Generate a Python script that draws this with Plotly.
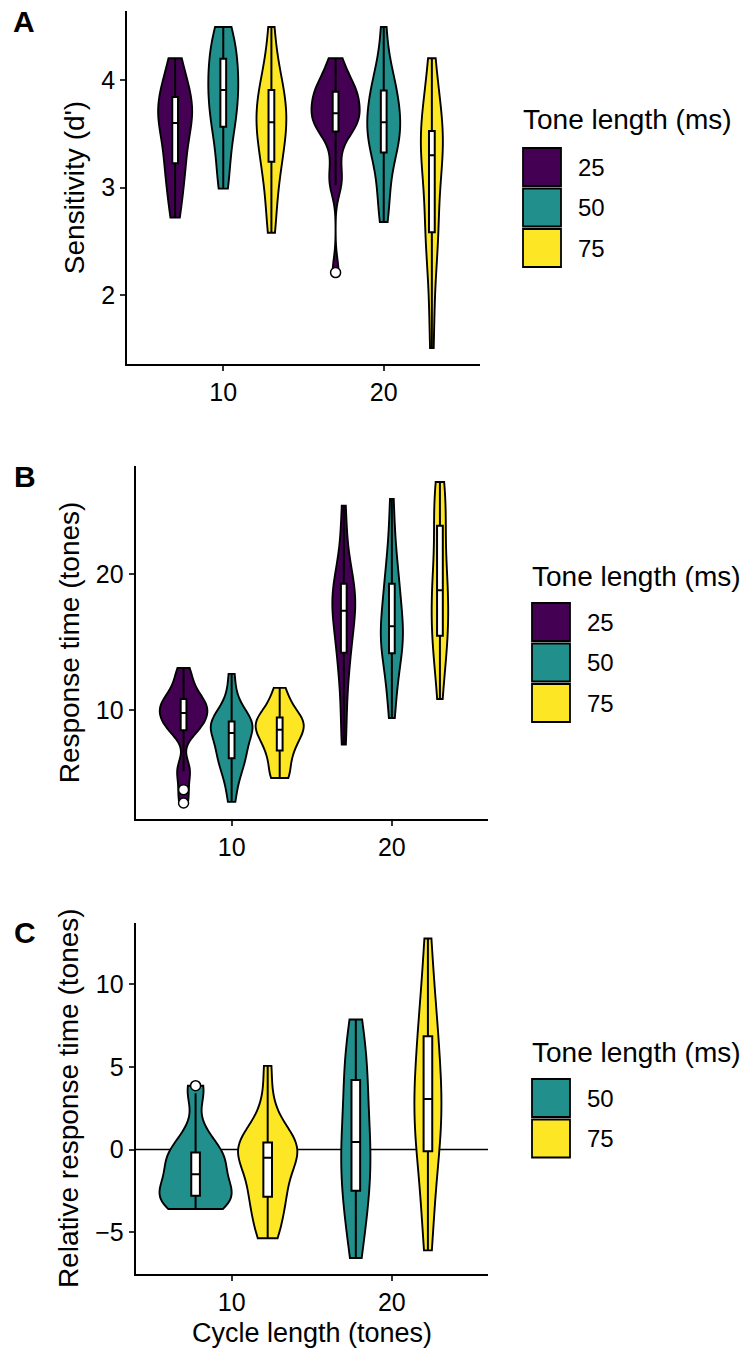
import numpy as np
import plotly.graph_objects as go

# ---------------- data ----------------
CYCLES = ["10", "20"]
TONES = ["25", "50", "75"]
TONE_COLORS = {"25": "#440154", "50": "#21908C", "75": "#FDE725"}

# Panel A: sensitivity (d') per participant
sens_t25_c10 = [2.72, 2.85, 3.0, 3.1, 3.2, 3.25, 3.35, 3.45, 3.55, 3.6,
                3.6, 3.7, 3.72, 3.75, 3.8, 3.88, 3.9, 4.0, 4.1, 4.2]
sens_t50_c10 = [2.99, 3.1, 3.25, 3.4, 3.55, 3.58, 3.65, 3.7, 3.8, 3.88,
                3.93, 3.95, 4.0, 4.1, 4.18, 4.21, 4.3, 4.35, 4.45, 4.49]
sens_t75_c10 = [2.58, 2.75, 2.95, 3.1, 3.2, 3.28, 3.35, 3.45, 3.5, 3.58,
                3.63, 3.65, 3.7, 3.75, 3.89, 3.92, 3.95, 4.05, 4.25, 4.49]
sens_t25_c20 = [2.21, 3.02, 3.1, 3.3, 3.5, 3.54, 3.57, 3.6, 3.65, 3.68,
                3.7, 3.75, 3.8, 3.85, 3.88, 3.9, 3.95, 4.0, 4.1, 4.2]
sens_t50_c20 = [2.68, 2.85, 3.0, 3.15, 3.3, 3.35, 3.4, 3.45, 3.5, 3.58,
                3.63, 3.65, 3.7, 3.75, 3.89, 3.91, 3.95, 4.05, 4.2, 4.49]
sens_t75_c20 = [1.51, 1.9, 2.3, 2.5, 2.55, 2.62, 2.8, 3.0, 3.15, 3.25,
                3.35, 3.4, 3.45, 3.5, 3.5, 3.55, 3.7, 3.85, 4.0, 4.2]

# Panel B: response time (tones)
rt_t25_c10 = [3.16, 4.14, 5.5, 5.7, 8.3, 8.7, 8.8, 9.0, 9.4, 9.7,
              9.85, 10.0, 10.2, 10.4, 10.7, 10.9, 11.2, 11.8, 12.5, 13.09]
rt_t50_c10 = [3.24, 4.5, 5.3, 5.8, 6.3, 6.6, 6.9, 7.3, 7.7, 8.1,
              8.5, 8.7, 8.9, 9.0, 9.1, 9.2, 9.6, 10.2, 11.0, 12.65]
rt_t75_c10 = [5.0, 5.05, 5.6, 6.3, 6.9, 7.15, 7.5, 7.9, 8.2, 8.5,
              8.6, 8.8, 9.0, 9.1, 9.4, 9.5, 9.8, 10.3, 10.9, 11.62]
rt_t25_c20 = [7.45, 9.5, 11.5, 12.8, 14.0, 14.4, 15.2, 16.0, 16.8, 17.1,
              17.5, 17.8, 18.2, 18.6, 19.15, 19.4, 20.0, 21.0, 22.8, 25.02]
rt_t50_c20 = [9.41, 10.8, 12.0, 13.0, 14.0, 14.35, 14.7, 15.1, 15.6, 16.0,
              16.3, 16.8, 17.5, 18.2, 19.15, 19.4, 20.2, 21.5, 23.0, 25.51]
rt_t75_c20 = [10.81, 12.5, 13.8, 14.8, 15.3, 15.6, 16.3, 17.0, 17.8, 18.5,
              19.1, 19.6, 20.2, 21.0, 23.2, 23.9, 24.5, 25.5, 26.2, 26.76]

# Panel C: relative response time (tones), relative to 25 ms tones
rel_t50_c10 = [-3.6, -3.55, -3.4, -3.2, -2.9, -2.7, -2.6, -2.4, -2.1, -1.8,
               -1.2, -1.0, -0.7, -0.4, -0.25, -0.1, 0.5, 1.2, 3.4, 3.86]
rel_t75_c10 = [-5.36, -5.0, -4.2, -3.5, -2.95, -2.75, -2.2, -1.6, -1.1, -0.7,
               -0.3, -0.1, 0.0, 0.2, 0.35, 0.5, 0.9, 1.5, 2.8, 5.06]
rel_t50_c20 = [-6.56, -5.5, -4.5, -3.5, -2.6, -2.4, -1.8, -1.0, -0.3, 0.3,
               0.6, 1.2, 2.0, 3.0, 4.1, 4.3, 5.0, 6.0, 7.0, 7.86]
rel_t75_c20 = [-6.1, -4.5, -3.0, -1.5, -0.3, 0.1, 0.8, 1.5, 2.3, 2.9,
               3.2, 3.8, 4.5, 5.3, 6.7, 7.0, 7.8, 9.0, 10.8, 12.76]
REFERENCE_LINE_C = 0.0

A_TICKS = [2, 3, 4]
B_TICKS = [10, 20]
C_TICKS = [-5, 0, 5, 10]

# ---------------- layout constants ----------------
W, H = 745, 1348
FONT = "Liberation Sans, Arial, Helvetica, sans-serif"
TICK_SIZE = 25
TITLE_SIZE = 28
XTITLE_SIZE = 27
LEG_TEXT = 24


def px_x(x):
    return x / W


def px_y(y):
    return 1 - y / H


def nrd0(v):
    v = np.asarray(v, float)
    sd = v.std(ddof=1)
    q75, q25 = np.percentile(v, [75, 25])
    lo = min(sd, (q75 - q25) / 1.34)
    if lo <= 0:
        lo = sd if sd > 0 else 1.0
    return 0.9 * lo * len(v) ** -0.2


panels = [
    dict(key="A", ax="", letter="A", ytitle="Sensitivity (d')", ticks=A_TICKS,
         dom_x=(127, 480), dom_y=(11, 364), xtitle=None,
         series={("25", "10"): sens_t25_c10, ("25", "20"): sens_t25_c20,
                 ("50", "10"): sens_t50_c10, ("50", "20"): sens_t50_c20,
                 ("75", "10"): sens_t75_c10, ("75", "20"): sens_t75_c20},
         tones=["25", "50", "75"], letter_xy=(24, 21),
         leg=dict(x=523, title_y=119, key_top=148)),
    dict(key="B", ax="2", letter="B", ytitle="Response time (tones)", ticks=B_TICKS,
         dom_x=(135.5, 488), dom_y=(466, 819), xtitle=None,
         series={("25", "10"): rt_t25_c10, ("25", "20"): rt_t25_c20,
                 ("50", "10"): rt_t50_c10, ("50", "20"): rt_t50_c20,
                 ("75", "10"): rt_t75_c10, ("75", "20"): rt_t75_c20},
         tones=["25", "50", "75"], letter_xy=(25, 477),
         leg=dict(x=532, title_y=577, key_top=603)),
    dict(key="C", ax="3", letter="C", ytitle="Relative response time (tones)", ticks=C_TICKS,
         dom_x=(135.5, 488), dom_y=(922.5, 1274), xtitle="Cycle length (tones)",
         series={("50", "10"): rel_t50_c10, ("50", "20"): rel_t50_c20,
                 ("75", "10"): rel_t75_c10, ("75", "20"): rel_t75_c20},
         tones=["50", "75"], letter_xy=(25, 932),
         leg=dict(x=532, title_y=1052, key_top=1079)),
]

fig = go.Figure()
shapes = []
annotations = []
layout = {}

for p in panels:
    xa = "x" + p["ax"]
    ya = "y" + p["ax"]
    allv = np.concatenate([np.asarray(v, float) for v in p["series"].values()])
    lo, hi = allv.min(), allv.max()
    pad = 0.05 * (hi - lo)
    for tone in p["tones"]:
        for cyc in CYCLES:
            vals = p["series"][(tone, cyc)]
            fig.add_trace(go.Violin(
                x=[cyc] * len(vals), y=vals, xaxis=xa, yaxis=ya,
                name=tone, showlegend=False,
                offsetgroup=tone, alignmentgroup=p["key"],
                scalegroup=p["key"], scalemode="width",
                spanmode="hard", bandwidth=nrd0(vals),
                fillcolor=TONE_COLORS[tone], opacity=1,
                line=dict(color="black", width=1.9),
                box=dict(visible=True, width=0.12, fillcolor="white",
                         line=dict(color="black", width=2.0)),
                meanline=dict(visible=False),
                points="outliers", pointpos=0, jitter=0,
                marker=dict(color="white", size=10,
                            line=dict(color="black", width=1.5)),
                hoverinfo="y",
            ))
    x0, x1 = p["dom_x"]
    y0, y1 = p["dom_y"]
    axis_common = dict(showline=True, linecolor="black", linewidth=1.7,
                       ticks="outside", ticklen=5, tickwidth=1.7, tickcolor="#333333",
                       showgrid=False, zeroline=False, automargin=False,
                       tickfont=dict(size=TICK_SIZE, color="black", family=FONT))
    layout["xaxis" + p["ax"]] = dict(
        axis_common, domain=[px_x(x0), px_x(x1)], anchor=ya,
        type="category", categoryorder="array", categoryarray=CYCLES,
        range=[-0.6, 1.6],
    )
    layout["yaxis" + p["ax"]] = dict(
        axis_common, domain=[px_y(y1), px_y(y0)], anchor=xa,
        range=[lo - pad, hi + pad], tickmode="array", tickvals=p["ticks"],
        title=dict(text=p["ytitle"], font=dict(size=TITLE_SIZE, color="black", family=FONT),
                   standoff=8),
    )
    if p["xtitle"]:
        annotations.append(dict(text=p["xtitle"], xref=xa + " domain", x=0.5,
                                yref="paper", y=0, xanchor="center", yanchor="bottom",
                                showarrow=False, borderpad=0, yshift=-1,
                                font=dict(size=XTITLE_SIZE, color="black", family=FONT)))
    # panel letter
    lx, ly = p["letter_xy"]
    annotations.append(dict(text="<b>%s</b>" % p["letter"], x=px_x(lx), y=px_y(ly),
                            xref="paper", yref="paper", showarrow=False,
                            xanchor="center", yanchor="middle",
                            font=dict(size=30, color="black", family=FONT)))
    # legend (manual, large keys like ggplot)
    lg = p["leg"]
    annotations.append(dict(text="Tone length (ms)", x=px_x(lg["x"] - 2), y=px_y(lg["title_y"]),
                            xref="paper", yref="paper", showarrow=False,
                            xanchor="left", yanchor="middle",
                            font=dict(size=TITLE_SIZE, color="black", family=FONT)))
    key, pitch = 38, 40.5
    for i, tone in enumerate(p["tones"]):
        top = lg["key_top"] + i * pitch
        shapes.append(dict(type="rect", xref="paper", yref="paper",
                           x0=px_x(lg["x"]), x1=px_x(lg["x"] + key),
                           y0=px_y(top + key), y1=px_y(top),
                           fillcolor=TONE_COLORS[tone], line=dict(color="black", width=1.8)))
        annotations.append(dict(text=tone, x=px_x(lg["x"] + key + 15), y=px_y(top + key / 2),
                                xref="paper", yref="paper", showarrow=False,
                                xanchor="left", yanchor="middle",
                                font=dict(size=LEG_TEXT, color="black", family=FONT)))

# zero reference line in panel C (behind the violins)
shapes.append(dict(type="line", xref="x3 domain", x0=0, x1=1, yref="y3",
                   y0=REFERENCE_LINE_C, y1=REFERENCE_LINE_C, layer="below",
                   line=dict(color="black", width=1.6)))

fig.update_layout(
    width=W, height=H, margin=dict(l=0, r=0, t=0, b=0),
    paper_bgcolor="white", plot_bgcolor="white",
    font=dict(family=FONT, color="black"),
    violinmode="group", violingap=0.1, violingroupgap=0,
    showlegend=False, shapes=shapes, annotations=annotations,
    **layout,
)

fig.write_html("out.html")
